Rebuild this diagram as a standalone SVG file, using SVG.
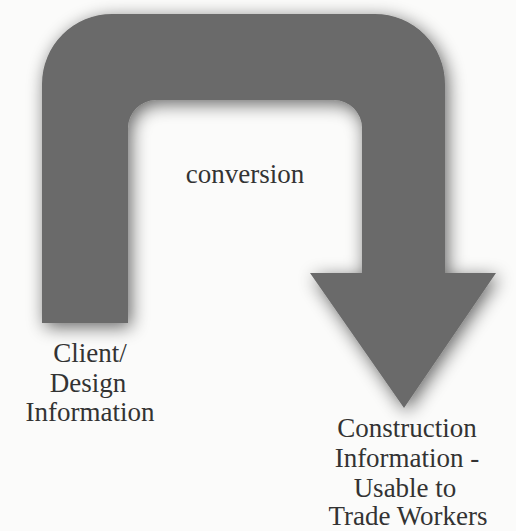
<svg xmlns="http://www.w3.org/2000/svg" width="516" height="531" viewBox="0 0 516 531">
  <style>
    .lbl { font-family: "Liberation Serif", "DejaVu Serif", serif; font-size: 27px; fill: #333333; text-anchor: middle; }
  </style>
  <defs>
    <filter id="soft" x="-20%" y="-20%" width="140%" height="140%">
      <feGaussianBlur in="SourceAlpha" stdDeviation="9"/>
      <feOffset dx="3" dy="4" result="b"/>
      <feComponentTransfer><feFuncA type="linear" slope="0.6"/></feComponentTransfer>
      <feMerge><feMergeNode/><feMergeNode in="SourceGraphic"/></feMerge>
    </filter>
  </defs>
  <rect width="516" height="531" fill="#fbfbfa"/>
  <g id="connectors">
    <path id="conversion-arrow" filter="url(#soft)" fill="#6a6a6a"
      d="M42,323 L42,84 A70,70 0 0 1 112,14 L375,14 A70,70 0 0 1 445,84 L445,273 L496,273 L404,408 L310,273 L362,273 L362,128 A28,28 0 0 0 334,100 L156,100 A28,28 0 0 0 128,128 L128,323 Z"/>
  </g>
  <g id="conversion">
    <text class="lbl" x="245" y="183">conversion</text>
  </g>
  <g id="client-design">
    <text class="lbl" x="90" y="362">Client/</text>
    <text class="lbl" x="88" y="392">Design</text>
    <text class="lbl" x="90" y="421">Information</text>
  </g>
  <g id="construction">
    <text class="lbl" x="407" y="437">Construction</text>
    <text class="lbl" x="407" y="467">Information -</text>
    <text class="lbl" x="405" y="497">Usable to</text>
    <text class="lbl" x="408" y="525">Trade Workers</text>
  </g>
</svg>
